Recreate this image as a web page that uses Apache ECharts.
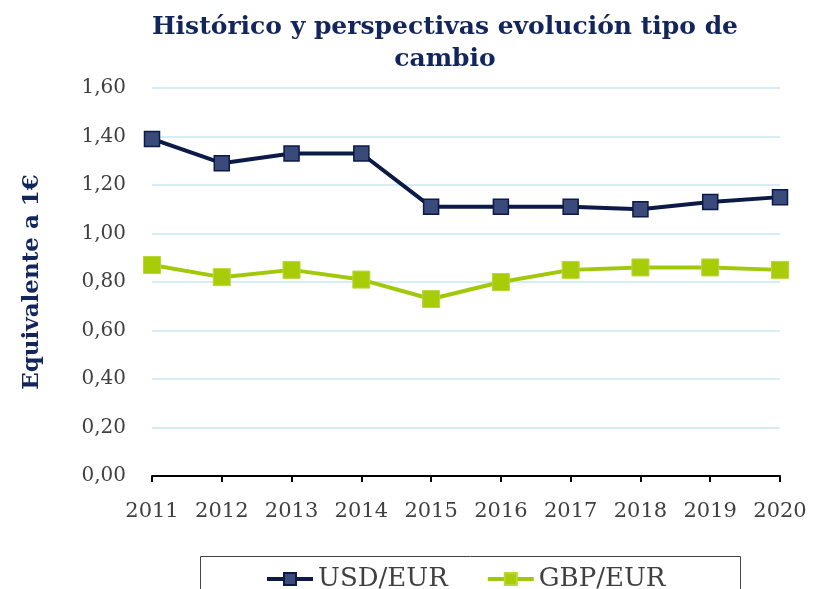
<!DOCTYPE html>
<html>
<head>
<meta charset="utf-8">
<script src="https://cdn.jsdelivr.net/npm/echarts@6/dist/echarts.min.js"></script>
<style>
  html, body { margin: 0; padding: 0; background: #fff; }
  #chart { width: 813px; height: 589px; }
</style>
</head>
<body>
<div id="chart"></div>
<script>
// data
const years = ['2011', '2012', '2013', '2014', '2015', '2016', '2017', '2018', '2019', '2020'];
const usdEur = [1.39, 1.29, 1.33, 1.33, 1.11, 1.11, 1.11, 1.10, 1.13, 1.15];
const gbpEur = [0.87, 0.82, 0.85, 0.81, 0.73, 0.80, 0.85, 0.86, 0.86, 0.85];
const seriesNames = ['USD/EUR', 'GBP/EUR'];

const serif = '"DejaVu Serif", Georgia, serif';
const navy = '#13265c';

const chart = echarts.init(document.getElementById('chart'));

const option = {
  backgroundColor: '#fff',
  animation: false,
  title: {
    text: 'Histórico y perspectivas evolución tipo de\ncambio',
    left: 440,
    textAlign: 'center',
    top: 6,
    textStyle: {
      fontFamily: serif,
      fontWeight: 'bold',
      fontSize: 25,
      lineHeight: 32,
      color: navy,
    },
  },
  graphic: [
    {
      type: 'rect',
      shape: { x: 200.5, y: 556.5, width: 540, height: 60 },
      style: { fill: 'none', stroke: '#444', lineWidth: 1 },
    },
  ],
  legend: {
    data: seriesNames,
    left: 260,
    top: 561,
    itemWidth: 46,
    itemHeight: 15,
    itemGap: 38,
    lineStyle: { width: 4 },
    textStyle: {
      fontFamily: serif,
      fontSize: 26,
      color: '#404040',
    },
  },
  grid: {
    left: 152,
    right: 33,
    top: 88,
    bottom: 113,
  },
  xAxis: {
    type: 'category',
    boundaryGap: false,
    data: years,
    axisLine: { lineStyle: { color: '#000', width: 2 } },
    axisTick: { show: true, length: 6, lineStyle: { color: '#000', width: 2 } },
    axisLabel: {
      margin: 25,
      fontFamily: serif,
      fontSize: 21,
      color: '#404040',
    },
  },
  yAxis: {
    type: 'value',
    min: 0,
    max: 1.6,
    interval: 0.2,
    name: 'Equivalente a 1€',
    nameLocation: 'middle',
    nameGap: 108,
    nameTextStyle: {
      fontFamily: serif,
      fontWeight: 'bold',
      fontSize: 23,
      color: navy,
    },
    axisLine: { show: false },
    axisTick: { show: false },
    axisLabel: {
      margin: 26,
      fontFamily: serif,
      fontSize: 20,
      color: '#404040',
      formatter: (v) => v.toFixed(2).replace('.', ','),
    },
    splitLine: { lineStyle: { color: '#d8ecf6', width: 2 } },
  },
  series: [
    {
      name: seriesNames[0],
      type: 'line',
      data: usdEur,
      symbol: 'rect',
      symbolSize: 15,
      lineStyle: { color: '#0b1a47', width: 4 },
      itemStyle: { color: '#3a4a7a', borderColor: '#0b1a47', borderWidth: 1.5 },
      z: 3,
    },
    {
      name: seriesNames[1],
      type: 'line',
      data: gbpEur,
      symbol: 'rect',
      symbolSize: 17,
      lineStyle: { color: '#a2c80c', width: 4 },
      itemStyle: { color: '#a8cc08', borderColor: '#b6d83a', borderWidth: 1 },
      z: 2,
    },
  ],
};

chart.setOption(option);
</script>
</body>
</html>
